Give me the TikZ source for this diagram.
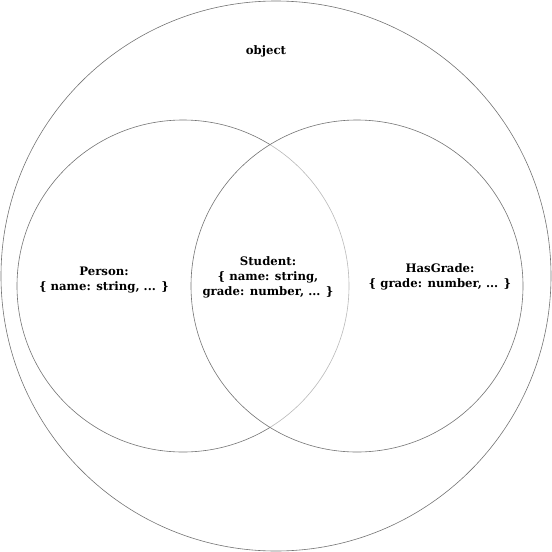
\documentclass[tikz,border=0pt]{standalone}
\usepackage{fontspec}
\setmainfont{DejaVu Serif}
\begin{document}
\begin{tikzpicture}[x=1pt,y=-1pt,
  ring/.style={draw=black!55, line width=0.6pt},
  lbl/.style={font=\bfseries\fontsize{11.7}{15}\selectfont, align=center, inner sep=0pt}]
\useasboundingbox (0,0) rectangle (552,552);
\node[ring, circle, minimum size=550pt, inner sep=0pt] (obj) at (276,276) {};
\node[ring, circle, minimum size=332pt, inner sep=0pt] (person) at (183,286) {};
\node[ring, circle, minimum size=332pt, inner sep=0pt, fill=white, fill opacity=0.5] (hasgrade) at (357,286) {};
\node[lbl] (objt) at (266,51.5) {object};
\node[lbl] (pt) at (104,280.5) {Person:\\\{ name: string, ... \}};
\node[lbl] (st) at (268,277) {Student:\\\{ name: string,\\grade: number, ... \}};
\node[lbl] (ht) at (440,276.5) {HasGrade:\\\{ grade: number, ... \}};
\end{tikzpicture}
\end{document}
